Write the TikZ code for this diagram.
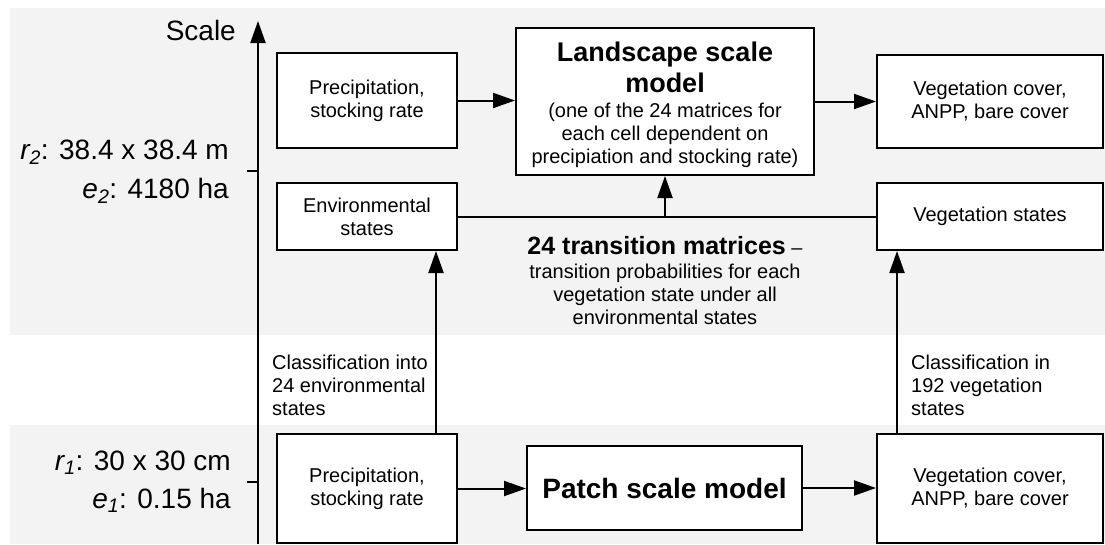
\documentclass[tikz,border=0pt]{standalone}
\usepackage{fontspec}
\setmainfont{Liberation Sans}
\usetikzlibrary{arrows.meta}
\definecolor{band}{RGB}{243,243,243}
\newcommand\mytxt{\fontsize{20}{23}\selectfont}
\newcommand\landfont{\fontsize{27}{31}\selectfont\bfseries}
\newcommand\patchfont{\fontsize{28}{32}\selectfont\bfseries}
\newcommand\tmfont{\fontsize{25}{29}\selectfont\bfseries}
\newcommand\axfont{\fontsize{28}{32}\selectfont}
\begin{document}
\begin{tikzpicture}[x=1pt,y=-1pt,
  box/.style={draw, line width=2pt, fill=white, inner sep=0pt, align=center, font=\mytxt},
  lbl/.style={inner sep=0pt, font=\mytxt},
  arr/.style={line width=2pt, -{Triangle[length=22pt,width=15pt]}},
  ln/.style={line width=2pt}]
\useasboundingbox (0,0) rectangle (1105,544);
\fill[band] (9.6,8) rectangle (1105,335);
\fill[band] (9.6,425) rectangle (1105,544);

% axis
\coordinate (ab) at (258,544);
\coordinate (at) at (258,21);
\draw[arr] (ab) -- (at);
\coordinate (t2) at (247,171);
\coordinate (t1) at (247,482);
\draw[ln] (t2) -- (t2 -| ab);
\draw[ln] (t1) -- (t1 -| ab);
\node[inner sep=0pt, font=\axfont, anchor=base east] (scale) at (236,40) {Scale};
\node[inner sep=0pt, font=\axfont, anchor=base east] (r2) at (229,159) {\textit{r\textsubscript{2}}: 38.4 x 38.4 m};
\node[inner sep=0pt, font=\axfont, anchor=base east] (e2) at (229,198) {\textit{e\textsubscript{2}}: 4180 ha};
\node[inner sep=0pt, font=\axfont, anchor=base east] (r1) at (231,470) {\textit{r\textsubscript{1}}: 30 x 30 cm};
\node[inner sep=0pt, font=\axfont, anchor=base east] (e1) at (231,508) {\textit{e\textsubscript{1}}: 0.15 ha};

% boxes
\node[box, minimum width=180pt, minimum height=95pt] (precT) at (367,100.5) {Precipitation,\\stocking rate};
\node[box, minimum width=298pt, minimum height=147pt] (land) at (665,101.5) {};
\node[lbl, font=\landfont, align=center] (landT) at (665,67) {Landscape scale\\model};
\node[lbl, align=center] (landS) at (665,135) {(one of the 24 matrices for\\each cell dependent on\\precipiation and stocking rate)};
\node[box, minimum width=226pt, minimum height=93pt] (vcT) at (990,101) {Vegetation cover,\\ANPP, bare cover};
\node[box, minimum width=180pt, minimum height=67pt] (env) at (367,216.5) {Environmental\\states};
\node[box, minimum width=226pt, minimum height=67pt] (vs) at (990,216.5) {Vegetation states};
\node[box, minimum width=180pt, minimum height=109pt] (precB) at (367,488.5) {Precipitation,\\stocking rate};
\node[box, minimum width=275pt, minimum height=84pt, font=\patchfont] (patch) at (664.5,488) {Patch scale model};
\node[box, minimum width=226pt, minimum height=109pt] (vcB) at (990,488.5) {Vegetation cover,\\ANPP, bare cover};

% middle text
\node[lbl] (tmT) at (665,246) {{\tmfont 24 transition matrices} \textendash};
\node[lbl, align=center] (tmS) at (665,294) {transition probabilities for each\\vegetation state under all\\environmental states};

% classification labels
\node[lbl, align=left, anchor=west] (clL) at (272,385) {Classification into\\24 environmental\\states};
\node[lbl, align=left, anchor=west] (clR) at (911,385) {Classification in\\192 vegetation\\states};

% connectors
\draw[arr] (precT.east) -- (precT.east -| land.west);
\draw[arr] (land.east) -- (land.east -| vcT.west);
\draw[ln] (env.east) -- (vs.west);
\coordinate (j) at (665,216.5);
\draw[arr] (j) -- (land.south);
\draw[arr] ([xshift=69pt]precB.north) -- ([xshift=69pt]env.south);
\draw[arr] ([xshift=-93pt]vcB.north) -- ([xshift=-93pt]vs.south);
\draw[arr] (precB.east) -- (precB.east -| patch.west);
\draw[arr] (patch.east) -- (patch.east -| vcB.west);
\end{tikzpicture}
\end{document}
